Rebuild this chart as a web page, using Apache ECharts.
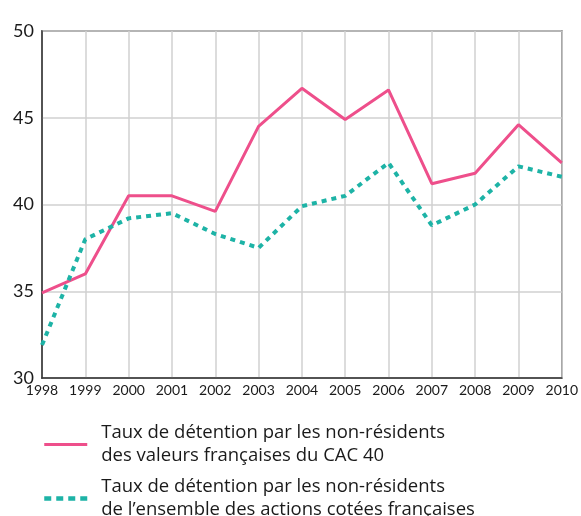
<!DOCTYPE html>
<html>
<head>
<meta charset="utf-8">
<script src="https://cdn.jsdelivr.net/npm/echarts@6/dist/echarts.min.js"></script>
<style>
  html, body { margin: 0; padding: 0; background: #fff; }
  #main { width: 581px; height: 516px; }
</style>
</head>
<body>
<div id="main"></div>
<script>
// années
var years = ['1998', '1999', '2000', '2001', '2002', '2003', '2004', '2005', '2006', '2007', '2008', '2009', '2010'];
// CAC 40
var cac40 = [34.9, 36.0, 40.5, 40.5, 39.6, 44.5, 46.7, 44.9, 46.6, 41.2, 41.8, 44.6, 42.4];
// ensemble des actions cotées
var ensemble = [31.9, 38.0, 39.2, 39.5, 38.3, 37.5, 39.9, 40.5, 42.4, 38.8, 40.0, 42.2, 41.6];

var nameCac = 'Taux de détention par les non-résidents\ndes valeurs françaises du CAC 40';
var nameAll = 'Taux de détention par les non-résidents\nde l\u2019ensemble des actions cotées françaises';

var font = 'Lato, "DejaVu Sans", sans-serif';
var pink = '#ee4f8b';
var teal = '#1db3a6';

var chart = echarts.init(document.getElementById('main'));

chart.setOption({
  animation: false,
  backgroundColor: '#fff',
  grid: {
    left: 42,
    top: 31,
    right: 19,
    bottom: 138,
    show: true,
    borderColor: '#333',
    borderWidth: 1.5
  },
  legend: {
    orient: 'vertical',
    left: 42,
    top: 410,
    width: 530,
    height: 200,
    padding: 0,
    itemWidth: 43,
    itemHeight: 14,
    itemGap: -15,
    data: [
      { name: nameCac, lineStyle: { color: pink, width: 3 } },
      { name: nameAll, lineStyle: { color: teal, width: 4.5, type: [7, 5] } }
    ],
    itemStyle: { opacity: 0 },
    textStyle: {
      fontFamily: '"Open Sans", sans-serif',
      fontSize: 18.5,
      color: '#1a1a1a',
      lineHeight: 23,
      padding: [23, 0, 0, 9]
    }
  },
  xAxis: {
    type: 'category',
    data: years,
    boundaryGap: false,
    axisLine: { lineStyle: { color: '#333', width: 1.5 } },
    axisTick: { show: false },
    axisLabel: {
      fontFamily: font,
      fontSize: 14,
      color: '#1a1a1a',
      margin: 5
    },
    splitLine: { show: true, lineStyle: { color: '#d0d0d0', width: 1.5 } }
  },
  yAxis: {
    type: 'value',
    min: 30,
    max: 50,
    interval: 5,
    axisLine: { show: true, lineStyle: { color: '#333', width: 1.5 } },
    axisTick: { show: false },
    axisLabel: {
      fontFamily: font,
      fontSize: 18,
      color: '#1a1a1a',
      margin: 8
    },
    splitLine: { lineStyle: { color: '#d0d0d0', width: 1.5 } }
  },
  series: [
    {
      name: nameCac,
      type: 'line',
      data: cac40,
      symbol: 'none',
      lineStyle: { color: pink, width: 3 },
      itemStyle: { color: pink }
    },
    {
      name: nameAll,
      type: 'line',
      data: ensemble,
      symbol: 'none',
      lineStyle: { color: teal, width: 4, type: [5, 5] },
      itemStyle: { color: teal }
    }
  ]
});
</script>
</body>
</html>
